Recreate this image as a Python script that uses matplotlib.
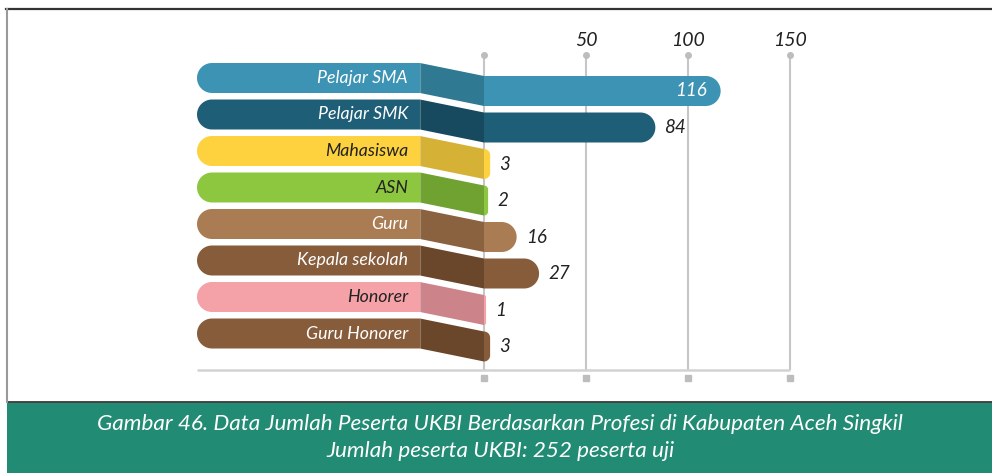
import numpy as np
import matplotlib.pyplot as plt
from matplotlib.patches import Polygon, Rectangle

# ---- data ----
categories = ["Pelajar SMA", "Pelajar SMK", "Mahasiswa", "ASN", "Guru",
              "Kepala sekolah", "Honorer", "Guru Honorer"]
values = [116, 84, 3, 2, 16, 27, 1, 3]
grid_values = [0, 50, 100, 150]
tick_labels = ["50", "100", "150"]
caption_lines = [
    "Gambar 46. Data Jumlah Peserta UKBI Berdasarkan Profesi di Kabupaten Aceh Singkil",
    "Jumlah peserta UKBI: 252 peserta uji",
]

# ---- style ----
pill_colors = ["#3C93B4", "#1F5E77", "#FDD23E", "#8DC63F",
               "#A97C53", "#875C3B", "#F4A1A7", "#875C3B"]
side_colors = ["#2F7A92", "#174A5F", "#D5B136", "#70A232",
               "#8A6240", "#6A462A", "#CC848A", "#6A462A"]
label_colors = ["white", "white", "#222222", "#222222",
                "white", "white", "#222222", "white"]
band_color = "#228B74"
grid_color = "#C6C6C8"

W, H = 992, 473
SX = 2.04        # pixels per unit on the value axis
X0 = 484         # pixel x of value 0
ROW = 36.5       # pixels between rows
Y0 = 78          # pixel y of the first label pill centre
R = 15           # half bar height, px
DROP = 13        # how far the value bar sits below its label pill, px
PILL_L, PILL_R = 197, 420

label_font = ["Lato", "DejaVu Sans"]
caption_font = ["Lato", "DejaVu Sans"]


def dx(p):
    return p / SX


def dy(p):
    return p / ROW


def vx(px):
    return (px - X0) / SX


def ry(py):
    return (py - Y0) / ROW


fig = plt.figure(figsize=(W / 100, H / 100), dpi=100)
ax = fig.add_axes([0, 0, 1, 1])
ax.set_xlim(vx(0), vx(W))
ax.set_ylim(ry(H), ry(0))
ax.axis("off")

# grid lines, dots on top, small squares below
ax.vlines(grid_values, ry(55), ry(370), color=grid_color, lw=1.5, zorder=1)
ax.plot(grid_values, [ry(55)] * 4, "o", ms=4, color="#BDBDC0", zorder=1)
ax.plot(grid_values, [ry(378)] * 4, "s", ms=4, color="#BDBDC0", zorder=1)
ax.hlines(ry(370), vx(PILL_L), grid_values[-1], color="#D2D2D2", lw=1.8, zorder=1)

for v, t in zip(grid_values[1:], tick_labels):
    ax.text(v, ry(40), t, ha="center", va="center", fontsize=14,
            style="italic", color="#222222", family=label_font)

xl, xr = vx(PILL_L), vx(PILL_R)
for i, (cat, val) in enumerate(zip(categories, values)):
    yc = i
    yb = yc + dy(DROP)
    top, bot = yc - dy(R), yc + dy(R)

    # label pill, rounded on the left
    t = np.radians(np.linspace(90, 270, 40))
    arc = np.column_stack([xl + dx(R) + dx(R) * np.cos(t), yc - dy(R) * np.sin(t)])
    pill = np.vstack([[xr, top], arc, [xr, bot]])
    ax.add_patch(Polygon(pill, closed=True, fc=pill_colors[i], ec="none", zorder=3))
    ax.text(xr - dx(12), yc, cat, ha="right", va="center", fontsize=12.8,
            style="italic", color=label_colors[i], family=label_font, zorder=5)

    # slanted connector down to the value bar
    conn = [[xr, top], [0, yb - dy(R)], [0, yb + dy(R)], [xr, bot]]
    ax.add_patch(Polygon(conn, closed=True, fc=side_colors[i], ec="none", zorder=3))
    ax.plot([xr, xr], [top, bot], color="white", alpha=0.25, lw=0.8, zorder=4)

    # value bar, rounded on the right
    wpx = val * SX
    rr = min(R, wpx)
    btop, bbot = yb - dy(R), yb + dy(R)
    t1 = np.radians(np.linspace(90, 0, 20))
    t2 = np.radians(np.linspace(0, -90, 20))
    c1 = np.column_stack([val - dx(rr) + dx(rr) * np.cos(t1), btop + dy(rr) - dy(rr) * np.sin(t1)])
    c2 = np.column_stack([val - dx(rr) + dx(rr) * np.cos(t2), bbot - dy(rr) - dy(rr) * np.sin(t2)])
    bar = np.vstack([[0, btop], c1, c2, [0, bbot]])
    ax.add_patch(Polygon(bar, closed=True, fc=pill_colors[i], ec="none", zorder=3))

    if val > 100:
        ax.text(val - dx(14), yb, str(val), ha="right", va="center", fontsize=13.5,
                style="italic", color="white", family=label_font, zorder=5)
    else:
        ax.text(val + dx(9), yb, str(val), ha="left", va="center", fontsize=13.5,
                style="italic", color="#222222", family=label_font, zorder=5)

# frame and caption band
def fx(p):
    return p / W


def fy(p):
    return 1 - p / H


fig.add_artist(Rectangle((fx(7), 0), fx(W - 7), fy(401.5), fc=band_color, ec="none"))
fig.add_artist(plt.Line2D([fx(6), 1], [fy(9.5), fy(9.5)], color="#333333", lw=1.6))
fig.add_artist(plt.Line2D([fx(7), 1], [fy(401.5), fy(401.5)], color="#444444", lw=1.4))
fig.add_artist(plt.Line2D([fx(7), fx(7)], [fy(9), fy(402)], color="#9A9A9A", lw=1.5))

for k, line in enumerate(caption_lines):
    fig.text(fx(500), fy(424 + 27 * k), line, ha="center", va="center",
             fontsize=16.2, style="italic", color="white", family=caption_font)

fig.savefig("out.png", dpi=100)
